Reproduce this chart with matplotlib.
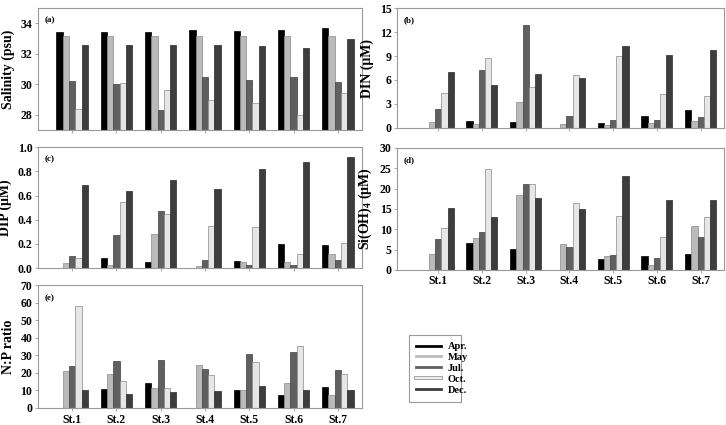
import numpy as np
import matplotlib
matplotlib.use('Agg')
import matplotlib.pyplot as plt
import matplotlib.patheffects as pe
from matplotlib.lines import Line2D

stations = ['St.1', 'St.2', 'St.3', 'St.4', 'St.5', 'St.6', 'St.7']
months = ['Apr.', 'May', 'Jul.', 'Oct.', 'Dec.']

# values per month, St.1 .. St.7
salinity = {
    'Apr.': [33.45, 33.45, 33.4, 33.55, 33.5, 33.55, 33.7],
    'May':  [33.2, 33.2, 33.2, 33.2, 33.15, 33.2, 33.2],
    'Jul.': [30.2, 30.05, 28.3, 30.45, 30.25, 30.45, 30.15],
    'Oct.': [28.4, 30.1, 29.6, 29.0, 28.8, 28.0, 29.4],
    'Dec.': [32.55, 32.55, 32.55, 32.55, 32.5, 32.4, 32.95],
}
din = {
    'Apr.': [0, 0.9, 0.7, 0, 0.6, 1.5, 2.3],
    'May':  [0.8, 0.5, 3.2, 0.5, 0.4, 0.6, 0.9],
    'Jul.': [2.4, 7.3, 12.9, 1.5, 1.0, 1.0, 1.4],
    'Oct.': [4.4, 8.8, 5.1, 6.6, 9.0, 4.2, 4.0],
    'Dec.': [7.0, 5.4, 6.8, 6.3, 10.3, 9.1, 9.8],
}
dip = {
    'Apr.': [0, 0.08, 0.05, 0, 0.06, 0.20, 0.19],
    'May':  [0.04, 0.03, 0.28, 0.02, 0.05, 0.05, 0.12],
    'Jul.': [0.10, 0.27, 0.47, 0.07, 0.03, 0.03, 0.07],
    'Oct.': [0.08, 0.55, 0.45, 0.35, 0.34, 0.12, 0.21],
    'Dec.': [0.69, 0.64, 0.73, 0.65, 0.82, 0.88, 0.92],
}
sioh = {
    'Apr.': [0, 6.6, 5.1, 0, 2.7, 3.3, 3.8],
    'May':  [4.0, 7.9, 18.5, 6.3, 3.4, 1.1, 10.8],
    'Jul.': [7.6, 9.4, 21.1, 5.6, 3.6, 2.9, 8.2],
    'Oct.': [10.4, 24.7, 21.0, 16.5, 13.3, 8.2, 13.0],
    'Dec.': [15.2, 13.0, 17.7, 15.0, 23.1, 17.3, 17.1],
}
np_ratio = {
    'Apr.': [0, 11, 14, 0, 10.5, 7.5, 12],
    'May':  [21, 19.5, 11.5, 24.5, 10, 14, 7.5],
    'Jul.': [24, 27, 27.5, 22.5, 31, 32, 21.5],
    'Oct.': [58, 15.5, 11.5, 19, 26.5, 35.5, 19.5],
    'Dec.': [10, 8, 9, 9.5, 12.5, 10, 10.5],
}

colors = {'Apr.': '#000000', 'May': '#bababa', 'Jul.': '#606060',
          'Oct.': '#e6e6e6', 'Dec.': '#3d3d3d'}
edges = {'Apr.': '#000000', 'May': '#8a8a8a', 'Jul.': '#404040',
         'Oct.': '#8a8a8a', 'Dec.': '#2a2a2a'}

plt.rcParams['font.family'] = ['Liberation Serif', 'DejaVu Serif']
plt.rcParams['font.weight'] = 'bold'
plt.rcParams['mathtext.fontset'] = 'custom'
plt.rcParams['mathtext.rm'] = 'Liberation Serif:bold'

fig = plt.figure(figsize=(7.26, 4.25), dpi=100)

panels = [
    # data, ylabel, tag, rect, ylim, yticks, fmt, xlim, show x labels
    (salinity, 'Salinity (psu)', '(a)', [0.0523, 0.694, 0.446, 0.287], (27, 35), [28, 30, 32, 34], '%d', (0.23, 7.54), False),
    (din, 'DIN (\u03bcM)', '(b)', [0.547, 0.699, 0.450, 0.282], (0, 15), [0, 3, 6, 9, 12, 15], '%d', (0.06, 7.53), False),
    (dip, 'DIP (\u03bcM)', '(c)', [0.0523, 0.369, 0.446, 0.285], (0, 1.0), [0, 0.2, 0.4, 0.6, 0.8, 1.0], '%.1f', (0.23, 7.54), False),
    (sioh, 'Si(OH)$_\\mathrm{4}$ (\u03bcM)', '(d)', [0.547, 0.365, 0.450, 0.287], (0, 30), [0, 5, 10, 15, 20, 25, 30], '%d', (0.06, 7.53), True),
    (np_ratio, 'N:P ratio', '(e)', [0.0523, 0.040, 0.446, 0.289], (0, 70), [0, 10, 20, 30, 40, 50, 60, 70], '%d', (0.23, 7.54), True),
]

x = np.arange(1, len(stations) + 1)
w = 0.142

for data, ylab, tag, rect, ylim, yticks, fmt, xlim, showx in panels:
    ax = fig.add_axes(rect)
    base = ylim[0]
    for i, m in enumerate(months):
        ax.bar(x + (i - 2) * w, np.array(data[m]) - base, w, bottom=base,
               color=colors[m], edgecolor=edges[m], linewidth=0.5)
    ax.set_ylim(*ylim)
    ax.set_xlim(*xlim)
    ax.set_yticks(yticks)
    ax.set_yticklabels([fmt % t for t in yticks], fontsize=8.5, fontweight='bold')
    ax.set_xticks(x)
    if showx:
        ax.set_xticklabels(stations, fontsize=8.5, fontweight='bold')
    else:
        ax.set_xticklabels([])
    ax.set_ylabel(ylab, fontsize=10, fontweight='bold', labelpad=4)
    for s in ax.spines.values():
        s.set_color('#9a9a9a')
        s.set_linewidth(0.8)
    ax.tick_params(axis='both', length=2, width=0.6, color='#9a9a9a', pad=2)
    ax.text(0.02, 0.93, tag, transform=ax.transAxes, fontsize=6.5,
            fontweight='bold', va='top', ha='left')

handles = [Line2D([0], [0], color=colors[m], lw=2) for m in months]
handles[3] = Line2D([0], [0], color='#ececec', lw=1.6,
                    path_effects=[pe.withStroke(linewidth=2.6, foreground='#8a8a8a')])
leg = fig.legend(handles, months, loc='lower left',
                 bbox_to_anchor=(0.556, 0.042, 0.086, 0.186), mode='expand',
                 prop={'family': 'Liberation Serif', 'weight': 'bold', 'size': 7.5},
                 handlelength=2.4, handletextpad=0.6, labelspacing=0.15,
                 borderpad=0.7, fancybox=False, framealpha=1)
leg.get_frame().set_edgecolor('#9a9a9a')
leg.get_frame().set_linewidth(0.8)

fig.savefig('out.png', dpi=100)
